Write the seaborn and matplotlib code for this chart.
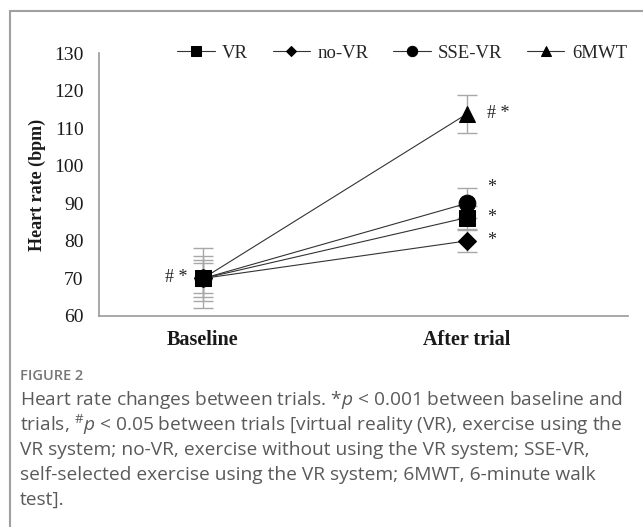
import seaborn as sns
import matplotlib.pyplot as plt
import matplotlib.patches as mpatches
import pandas as pd

# data
timepoints = ['Baseline', 'After trial']
groups = ['VR', 'no-VR', 'SSE-VR', '6MWT']
hr_vr = [70, 86.2]
hr_novr = [70, 80]
hr_ssevr = [70, 90]
hr_6mwt = [70, 113.8]
sd_vr = [5, 3]
sd_novr = [4, 3]
sd_ssevr = [6, 4]
sd_6mwt = [8, 5]

# significance marks: (group, timepoint, text)
sig_marks = [
    ('VR', 'Baseline', '# *'),
    ('6MWT', 'After trial', '# *'),
    ('SSE-VR', 'After trial', '*'),
    ('VR', 'After trial', '*'),
    ('no-VR', 'After trial', '*'),
]
sig_y = {'SSE-VR': 94.3, 'VR': 86.3, 'no-VR': 80.2, '6MWT': 113.8}

means = {'VR': hr_vr, 'no-VR': hr_novr, 'SSE-VR': hr_ssevr, '6MWT': hr_6mwt}
sds = {'VR': sd_vr, 'no-VR': sd_novr, 'SSE-VR': sd_ssevr, '6MWT': sd_6mwt}

rows = []
for g in groups:
    for i, t in enumerate(timepoints):
        rows.append({'group': g, 'time': t, 'x': i, 'hr': means[g][i], 'sd': sds[g][i]})
df = pd.DataFrame(rows)

sns.set_theme(style='white')
plt.rcParams['font.family'] = ['Liberation Serif', 'DejaVu Serif']
plt.rcParams['mathtext.fontset'] = 'custom'
plt.rcParams['mathtext.rm'] = 'Open Sans'
plt.rcParams['mathtext.it'] = 'Open Sans:italic'

fig = plt.figure(figsize=(6.43, 5.27), dpi=100)
ax = fig.add_axes([99 / 643, 1 - 316 / 527, 529 / 643, 263 / 527])

markers = {'VR': 's', 'no-VR': 'D', 'SSE-VR': 'o', '6MWT': '^'}
msizes = {'VR': 12, 'no-VR': 9, 'SSE-VR': 12, '6MWT': 12}

# error bars first, underneath
for g in groups:
    sub = df[df.group == g]
    ax.errorbar(sub.x, sub.hr, yerr=sub.sd, fmt='none', ecolor='#a8a8a8',
                elinewidth=1, capsize=7, capthick=1, zorder=1)

# draw order so the square sits on top at baseline
handles = {}
for k, g in enumerate(['6MWT', 'SSE-VR', 'no-VR', 'VR']):
    sub = df[df.group == g]
    sns.lineplot(data=sub, x='x', y='hr', ax=ax, color='#333333', linewidth=0.8,
                 marker=markers[g], markersize=msizes[g], markerfacecolor='black',
                 markeredgecolor='black', zorder=3 + k, label=g)
    handles[g] = ax.lines[-1]

ax.legend([handles[g] for g in groups], groups, loc='center',
          bbox_to_anchor=(0.573, 1.0), ncol=4, frameon=False, fontsize=13.5,
          markerscale=0.62, handlelength=2.0, handletextpad=0.4,
          columnspacing=1.3, borderpad=0)

ax.set_xlim(-0.394, 1.61)
ax.set_ylim(60, 130)
ax.set_yticks(range(60, 131, 10))
ax.set_xticks([0, 1])
ax.set_xticklabels(timepoints, fontweight='bold', fontsize=14.5)
ax.tick_params(axis='y', length=0, pad=11, labelsize=14, colors='#1a1a1a')
ax.tick_params(axis='x', length=0, pad=10, colors='#1a1a1a')
ax.set_xlabel('')
ax.set_ylabel('Heart rate (bpm)', fontweight='bold', fontsize=13, color='#1a1a1a')
ax.yaxis.set_label_coords(-0.1, 0.5)

for side in ['top', 'right']:
    ax.spines[side].set_visible(False)
for side in ['left', 'bottom']:
    ax.spines[side].set_color('#9a9a9a')
    ax.spines[side].set_linewidth(1.2)

for g, t, txt in sig_marks:
    xi = timepoints.index(t)
    if xi == 0:
        ax.text(xi - 0.06, 70.3, txt, ha='right', va='center', fontsize=13, color='#222222')
    else:
        ax.text(xi + 0.075, sig_y[g], txt, ha='left', va='center', fontsize=13, color='#222222')

# outer frame around the figure panel
frame = mpatches.Rectangle((10 / 643, -0.1), 1.2, 1.1 - 11 / 527,
                           transform=fig.transFigure, fill=False,
                           edgecolor='#a0a0a0', linewidth=1.5)
fig.patches.append(frame)

cap_font = ['Open Sans', 'DejaVu Sans']
fig.text(20 / 643, 1 - 376 / 527, 'FIGURE 2', fontsize=10.5, color='#777777',
         family=cap_font, fontweight='semibold', va='center')
caption = [
    'Heart rate changes between trials. *$p$ < 0.001 between baseline and',
    r'trials, $^{\#}p$ < 0.05 between trials [virtual reality (VR), exercise using the',
    'VR system; no-VR, exercise without using the VR system; SSE-VR,',
    'self-selected exercise using the VR system; 6MWT, 6-minute walk',
    'test].',
]
for i, line in enumerate(caption):
    fig.text(20 / 643, 1 - (400 + 25 * i) / 527, line, fontsize=13.75,
             color='#5a5a5a', family=cap_font, va='center')

fig.savefig('out.png', dpi=100)
